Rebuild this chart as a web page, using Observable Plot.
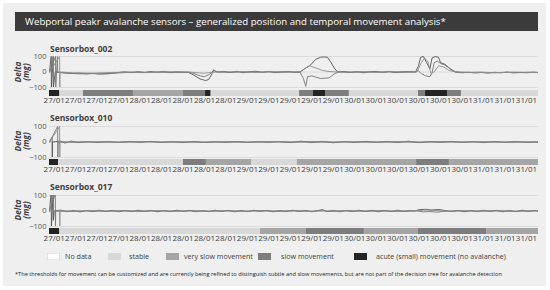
<!DOCTYPE html>
<html><head><meta charset="utf-8">
<script src="https://cdn.jsdelivr.net/npm/d3@7"></script>
<script src="https://cdn.jsdelivr.net/npm/@observablehq/plot@0.6"></script>
<style>
body{margin:0;background:#fff;font-family:"Open Sans",sans-serif;}
#wrap{position:relative;width:550px;height:290px;overflow:hidden;}
#bg{position:absolute;left:3px;top:3px;width:543px;height:283px;background:#efefef;}
#title{position:absolute;left:15px;top:12px;width:523px;height:19px;background:#3b3b3b;color:#fff;font-size:9.7px;line-height:19px;padding-left:10px;box-sizing:border-box;white-space:nowrap;}
.abs{position:absolute;}
.plabel{font-weight:bold;font-size:8.5px;color:#404040;line-height:10px;white-space:nowrap;}
.ylab{font-weight:bold;font-style:italic;font-size:8.2px;color:#404040;white-space:nowrap;transform:translate(-50%,-50%) rotate(-90deg);line-height:9px;}
.sw{width:13px;height:7px;}
.lt{font-size:7.15px;color:#404040;line-height:9px;white-space:nowrap;}
#foot{font-size:5.65px;color:#222;white-space:nowrap;line-height:8px;}
svg{overflow:visible;}
</style></head>
<body><div id="wrap"><div id="bg"></div>
<div id="title">Webportal peakr avalanche sensors – generalized position and temporal movement analysis*</div>
</div>
<script>
// ---------- data ----------
const tickLabels = ["27/01","27/01","27/01","27/01","28/01","28/01","28/01","28/01","28/01","29/01","29/01","29/01","29/01","29/01","30/01","30/01","30/01","30/01","30/01","30/01","31/01","31/01","31/01"];
const yTicks = [-100, 0, 100];
const sensorNames = ["Sensorbox_002", "Sensorbox_010", "Sensorbox_017"];

const legendLabels = ["No data", "stable", "very slow movement", "slow movement", "acute (small) movement (no avalanche)"];
const legendKeys = ["noData", "stable", "verySlow", "slow", "acute"];
const stateColors = {noData: "#ffffff", stable: "#d8d8d8", verySlow: "#a5a5a5", slow: "#7d7d7d", acute: "#232323"};
const seriesColors = ["#545454", "#767676", "#8e8e8e"];

// status periods (start in tick units)
const status002Start = [-0.22, 0.26, 1.36, 3.69, 6.02, 7.05, 7.31, 11.43, 12.08, 12.64, 13.75, 16.97, 17.30, 18.32, 18.97];
const status002State = ["acute","stable","slow","verySlow","slow","acute","stable","slow","acute","slow","stable","slow","acute","slow","stable"];
const status010Start = [-0.22, 0.20, 6.02, 7.09, 9.19, 11.33, 16.88, 18.41];
const status010State = ["acute","stable","slow","verySlow","stable","verySlow","slow","verySlow"];
const status017Start = [-0.22, 0.26, 9.61, 11.75, 14.45, 16.97, 20.14];
const status017State = ["acute","stable","verySlow","slow","verySlow","slow","verySlow"];
const periodEnd = 22.56;

// Sensorbox_002 deltas [t, mg]
const s002a = [[-0.22,0],[-0.14,100],[-0.13,-100],[-0.05,100],[-0.04,-100],[0.05,0],
[0.3,-4],[0.6,-7],[0.9,-10],[1.2,-8],[1.5,-12],[1.8,-9],[2.1,-13],[2.4,-10],[2.7,-6],[3.0,-3],[3.3,1],[3.6,-4],[3.9,2],[4.2,-3],[4.5,3],[4.8,-2],[5.1,4],[5.4,-3],[5.7,2],[6.0,-1],
[6.26,-3],[6.5,-20],[6.8,-45],[7.05,-55],[7.2,-48],[7.35,-12],[7.42,14],[7.5,6],[7.6,0],
[7.9,4],[8.2,-3],[8.5,5],[8.8,-4],[9.1,2],[9.4,5],[9.7,-3],[10.0,3],[10.3,-4],[10.6,2],[10.9,4],[11.2,-3],[11.45,0],
[11.6,15],[11.94,45],[12.17,80],[12.4,95],[12.54,97],[12.73,95],[12.9,60],[13.05,25],[13.2,0],
[13.5,4],[13.8,-3],[14.1,3],[14.4,-5],[14.7,2],[15.0,4],[15.3,-3],[15.6,3],[15.9,-4],[16.2,2],[16.5,3],[16.83,0],
[16.97,40],[17.07,95],[17.2,100],[17.35,60],[17.5,20],[17.6,90],[17.75,100],[17.9,95],[18.0,60],[18.2,50],[18.45,20],[18.7,0],
[19.0,-5],[19.3,-2],[19.6,-6],[19.9,-3],[20.2,-7],[20.5,-2],[20.8,-5],[21.1,-1],[21.4,-6],[21.7,-3],[22.0,-5],[22.3,-2],[22.55,-4]];
const s002b = [[-0.22,0],[0.06,100],[0.07,-100],[0.15,100],[0.16,0],
[0.6,-8],[1.2,-12],[1.8,-10],[2.4,-13],[3.0,-6],[3.6,-2],[4.2,-4],[4.8,-1],[5.4,-4],[6.0,-2],
[6.26,0],[6.5,-10],[6.8,-25],[7.0,-30],[7.2,-18],[7.35,0],[7.45,8],[7.6,0],
[8.2,-3],[8.8,1],[9.4,-2],[10.0,2],[10.6,-3],[11.2,1],[11.45,0],
[11.6,-40],[11.72,-92],[11.8,-30],[12.0,-25],[12.4,-42],[12.8,-38],[13.05,-12],[13.25,0],
[13.8,-3],[14.4,1],[15.0,-2],[15.6,2],[16.2,-3],[16.83,0],
[16.95,10],[17.1,-10],[17.3,-25],[17.5,-30],[17.6,-5],[17.7,60],[17.85,70],[18.0,55],[18.2,45],[18.5,15],[18.7,0],
[19.3,-4],[19.9,-1],[20.5,-5],[21.1,-2],[21.7,-4],[22.3,-1],[22.55,-3]];
const s002c = [[-0.22,0],[0.25,100],[0.26,-100],[0.27,0],
[0.9,-5],[1.8,-7],[2.7,-3],[3.6,0],[4.5,-2],[5.4,2],[6.26,0],
[6.6,-4],[7.0,-8],[7.35,-2],[7.6,0],
[8.5,2],[9.5,-1],[10.5,2],[11.45,0],
[11.7,25],[11.9,40],[12.1,30],[12.5,10],[12.8,3],[13.2,0],
[14.0,2],[15.0,-1],[16.0,2],[16.9,0],
[17.1,60],[17.25,90],[17.4,70],[17.55,-10],[17.7,0],[17.9,40],[18.1,35],[18.4,10],[18.7,0],
[19.5,-2],[20.5,-4],[21.5,-1],[22.55,-3]];

// Sensorbox_010 deltas
const s010a = [[-0.22,0],[-0.1,30],[-0.09,-100],[-0.08,0],[0.3,6],[0.5,-7],[0.8,6],[1.1,-4],[1.5,3],[2.0,-3],[2.5,2],[3.0,-3],[3.5,3],[4.0,-2],[4.5,4],[5.0,-3],[5.5,2],[6.0,-4],[6.5,3],[7.0,-3],[7.5,2],[8.0,-2],[8.5,3],[9.0,-3],[9.5,2],[10.0,-2],[10.5,3],[11.0,-4],[11.5,5],[12.0,-4],[12.5,4],[13.0,-5],[13.5,3],[14.0,-3],[14.5,4],[15.0,-2],[15.5,3],[16.0,-3],[16.5,5],[17.0,-4],[17.5,3],[18.0,-3],[18.5,4],[19.0,-3],[19.5,3],[20.0,-4],[20.5,3],[21.0,-2],[21.5,3],[22.0,-3],[22.55,1]];
const s010b = [[-0.22,0],[0.16,100],[0.17,-100],[0.18,0],[1.0,-2],[2.0,1],[3.0,-1],[4.0,2],[5.0,-1],[6.0,1],[7.0,-2],[8.0,1],[9.0,-1],[10.0,2],[11.0,-1],[12.0,3],[13.0,-2],[14.0,1],[15.0,-1],[16.0,2],[17.0,-2],[18.0,3],[19.0,-1],[20.0,1],[21.0,-2],[22.0,1],[22.55,0]];
const s010c = [[-0.22,0],[0.25,100],[0.26,-100],[0.27,0],[1.5,1],[3.0,-1],[4.5,1],[6.0,-1],[7.5,1],[9.0,-1],[10.5,1],[12.0,-1],[13.5,1],[15.0,-1],[16.5,1],[18.0,-1],[19.5,1],[21.0,-1],[22.55,0]];

// Sensorbox_017 deltas
const s017a = [[-0.22,0],[-0.14,120],[-0.13,-100],[-0.05,120],[-0.04,-60],[0.0,0],[0.3,6],[0.6,-5],[0.9,4],[1.2,-6],[1.5,3],[1.8,-4],[2.1,5],[2.4,-3],[2.7,4],[3.0,-5],[3.3,3],[3.6,-4],[3.9,5],[4.2,-3],[4.5,4],[4.8,-5],[5.1,3],[5.4,-4],[5.7,5],[6.0,-3],[6.3,4],[6.6,-5],[6.9,3],[7.2,-4],[7.5,5],[7.8,-3],[8.1,4],[8.4,-5],[8.7,3],[9.0,-4],[9.3,5],[9.6,-3],[9.9,4],[10.2,-5],[10.5,3],[10.8,-4],[11.1,5],[11.4,-3],[11.7,4],[12.0,-5],[12.3,3],[12.5,9],[12.7,-4],[13.0,4],[13.3,-5],[13.6,3],[13.9,-4],[14.2,5],[14.5,-3],[14.8,4],[15.1,-5],[15.4,3],[15.7,-4],[16.0,5],[16.3,-3],[16.6,4],[16.8,0],[17.0,9],[17.3,11],[17.6,6],[17.9,10],[18.2,3],[18.5,-4],[18.8,4],[19.1,-5],[19.4,3],[19.7,-4],[20.0,5],[20.3,-3],[20.6,4],[20.9,-5],[21.2,3],[21.5,-4],[21.8,5],[22.1,-3],[22.4,4],[22.55,0]];
const s017b = [[-0.22,0],[0.05,110],[0.06,-100],[0.07,0],[0.8,-3],[1.6,2],[2.4,-2],[3.2,3],[4.0,-3],[4.8,2],[5.6,-2],[6.4,3],[7.2,-3],[8.0,2],[8.8,-2],[9.6,3],[10.4,-3],[11.2,2],[12.0,-2],[12.5,5],[12.8,-3],[13.6,2],[14.4,-2],[15.2,3],[16.0,-3],[16.9,0],[17.2,-6],[17.5,-3],[17.8,-8],[18.2,-2],[19.0,2],[19.8,-2],[20.6,3],[21.4,-3],[22.2,2],[22.55,0]];
const s017c = [[-0.22,0],[0.25,0],[0.26,-100],[0.27,0],[1.5,1],[3.0,-1],[4.5,1],[6.0,-1],[7.5,1],[9.0,-1],[10.5,1],[12.0,-1],[13.5,1],[15.0,-1],[16.5,1],[17.4,6],[17.8,3],[18.2,-1],[19.5,1],[21.0,-1],[22.55,0]];

// ---------- drawing ----------
const xDomain = [-0.22, periodEnd];
const tickPos = tickLabels.map((_, i) => i);
const panels = [
  {name: sensorNames[0], series: [s002a, s002b, s002c], starts: status002Start, states: status002State},
  {name: sensorNames[1], series: [s010a, s010b, s010c], starts: status010Start, states: status010State},
  {name: sensorNames[2], series: [s017a, s017b, s017c], starts: status017Start, states: status017State}
];
const panelTop = [48.7, 118, 187];
const wrap = document.getElementById("wrap");
const minus = d => String(d).replace("-", "\u2212");

function place(el, left, top) { el.style.left = left + "px"; el.style.top = top + "px"; el.classList.add("abs"); wrap.appendChild(el); return el; }

panels.forEach((p, i) => {
  const L = panelTop[i];
  const lab = document.createElement("div"); lab.className = "plabel"; lab.textContent = p.name;
  place(lab, 50, L - 5);
  const y1 = document.createElement("div"); y1.className = "ylab"; y1.textContent = "Delta"; place(y1, 17, L + 23);
  const y2 = document.createElement("div"); y2.className = "ylab"; y2.textContent = "(mg)"; place(y2, 24.5, L + 23);

  const lines = Plot.plot({
    width: 550, height: 39, marginLeft: 49, marginRight: 12, marginTop: 5, marginBottom: 3,
    style: {background: "transparent", fontFamily: "Open Sans", fontSize: "7.6px", color: "#595959", overflow: "visible"},
    x: {domain: xDomain, axis: null},
    y: {domain: [-100, 100], ticks: yTicks, tickSize: 0, tickPadding: 3, tickFormat: minus, label: null},
    marks: [
      Plot.ruleY(yTicks, {stroke: "#d6d6d6", strokeWidth: 0.8}),
      ...p.series.map((s, k) => Plot.line(s, {x: d => d[0], y: d => d[1], stroke: seriesColors[k], strokeWidth: 0.9, clip: true}))
    ]
  });
  place(lines, 0, L + 2.5);

  const segs = p.starts.map((s, j) => ({x1: s, x2: j + 1 < p.starts.length ? p.starts[j + 1] : periodEnd, fill: stateColors[p.states[j]]}));
  const status = Plot.plot({
    width: 550, height: 18, marginLeft: 49, marginRight: 12, marginTop: 0, marginBottom: 12,
    style: {background: "transparent", fontFamily: "Open Sans", fontSize: "8px", color: "#404040", overflow: "visible"},
    x: {domain: xDomain, ticks: tickPos, tickFormat: d => tickLabels[d], tickSize: 0, tickPadding: 1, label: null},
    color: {type: "identity"},
    marks: [Plot.rect(segs, {x1: "x1", x2: "x2", fill: "fill"})]
  });
  place(status, 0, L + 41.3);
});

// legend
const swX = [47, 108, 166, 258, 354];
const txX = [65, 129, 184, 281, 376];
legendLabels.forEach((t, i) => {
  const sw = document.createElement("div"); sw.className = "sw"; sw.style.background = stateColors[legendKeys[i]];
  if (legendKeys[i] === "noData") sw.style.boxShadow = "inset 0 0 0 0.6px #cfcfcf";
  place(sw, swX[i], 252.5);
  const tx = document.createElement("div"); tx.className = "lt"; tx.textContent = t;
  place(tx, txX[i], 251.5);
});
const foot = document.createElement("div"); foot.id = "foot";
foot.textContent = "*The thresholds for movement can be customized and are currently being refined to distinguish subtle and slow movements, but are not part of the decision tree for avalanche detection";
place(foot, 15, 270);
</script>
</body></html>
